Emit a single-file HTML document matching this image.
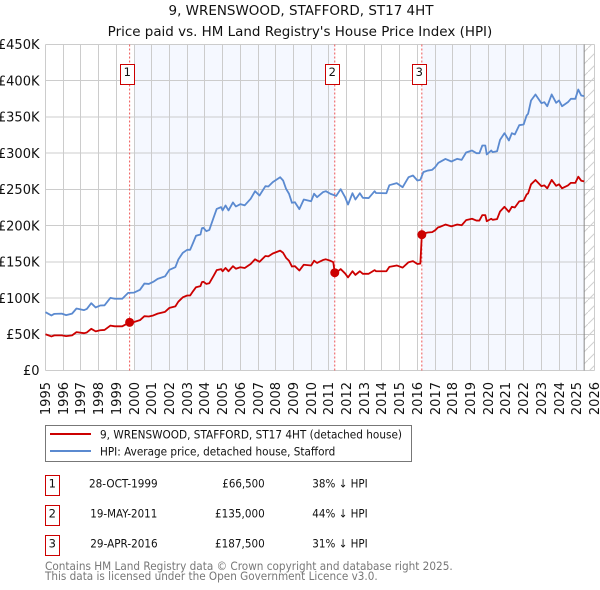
<!DOCTYPE html>
<html lang="en">
<head>
<meta charset="utf-8">
<title>9, WRENSWOOD, STAFFORD, ST17 4HT</title>
<style>
html,body{margin:0;padding:0;background:#fff;width:600px;height:590px;overflow:hidden}
svg{display:block;font-family:"DejaVu Sans","Liberation Sans",sans-serif}
text{fill:#111}
</style>
</head>
<body>
<svg id="chart" width="600" height="590" viewBox="0 0 600 590" xmlns="http://www.w3.org/2000/svg">
  <defs>
    <pattern id="hatch" patternUnits="userSpaceOnUse" width="12" height="12">
      <path d="M0 12L12 0" stroke="#d0d0d0" stroke-width="1" fill="none"/>
    </pattern>
  </defs>
  <text x="168.5" y="15" font-size="13.3" textLength="265" lengthAdjust="spacingAndGlyphs">9, WRENSWOOD, STAFFORD, ST17 4HT</text>
  <text x="107.7" y="36" font-size="13.3" textLength="384.6" lengthAdjust="spacingAndGlyphs">Price paid vs. HM Land Registry's House Price Index (HPI)</text>
  <g id="plot"></g>

  <g>
    <rect x="45.5" y="425.5" width="366" height="36" fill="#fff" stroke="#777" stroke-width="1"/>
    <line x1="50" x2="91" y1="434" y2="434" stroke="#cc0000" stroke-width="2"/>
    <text x="100" y="438.5" font-size="11.5" textLength="302" lengthAdjust="spacingAndGlyphs">9, WRENSWOOD, STAFFORD, ST17 4HT (detached house)</text>
    <line x1="50" x2="91" y1="451" y2="451" stroke="#5b8ad0" stroke-width="2"/>
    <text x="100" y="455.5" font-size="11.5" textLength="235.3" lengthAdjust="spacingAndGlyphs">HPI: Average price, detached house, Stafford</text>
  </g>

  <g font-size="11.5">
    <g>
      <rect x="45.5" y="475.5" width="14" height="20" fill="#fff" stroke="#cc0000"/>
      <text x="52.3" y="487.5" text-anchor="middle">1</text>
      <text x="89" y="487.5" textLength="68.7" lengthAdjust="spacingAndGlyphs">28-OCT-1999</text>
      <text x="222.3" y="487.5" textLength="42.4" lengthAdjust="spacingAndGlyphs">£66,500</text>
      <text x="312.3" y="487.5" textLength="55.4" lengthAdjust="spacingAndGlyphs">38% ↓ HPI</text>
    </g>
    <g>
      <rect x="45.5" y="505.5" width="14" height="20" fill="#fff" stroke="#cc0000"/>
      <text x="52.3" y="517.5" text-anchor="middle">2</text>
      <text x="90.3" y="517.5" textLength="67" lengthAdjust="spacingAndGlyphs">19-MAY-2011</text>
      <text x="215" y="517.5" textLength="49.7" lengthAdjust="spacingAndGlyphs">£135,000</text>
      <text x="312.3" y="517.5" textLength="55.4" lengthAdjust="spacingAndGlyphs">44% ↓ HPI</text>
    </g>
    <g>
      <rect x="45.5" y="535.5" width="14" height="20" fill="#fff" stroke="#cc0000"/>
      <text x="52.3" y="547.5" text-anchor="middle">3</text>
      <text x="90.3" y="547.5" textLength="67.4" lengthAdjust="spacingAndGlyphs">29-APR-2016</text>
      <text x="215" y="547.5" textLength="49.7" lengthAdjust="spacingAndGlyphs">£187,500</text>
      <text x="312.3" y="547.5" textLength="55.4" lengthAdjust="spacingAndGlyphs">31% ↓ HPI</text>
    </g>
  </g>

  <text x="45" y="570" font-size="11.5" textLength="407.7" lengthAdjust="spacingAndGlyphs" style="fill:#777">Contains HM Land Registry data © Crown copyright and database right 2025.</text>
  <text x="45" y="580" font-size="11.5" textLength="332.7" lengthAdjust="spacingAndGlyphs" style="fill:#777">This data is licensed under the Open Government Licence v3.0.</text>
</svg>
<script>
// Values in thousands of pounds; dates as months since January 1995.
const yearLabels = [1995,1996,1997,1998,1999,2000,2001,2002,2003,2004,2005,2006,2007,2008,2009,2010,2011,2012,2013,2014,2015,2016,2017,2018,2019,2020,2021,2022,2023,2024,2025,2026];
const priceTicks = [0,50,100,150,200,250,300,350,400,450];
const priceTickLabels = ['£0','£50K','£100K','£150K','£200K','£250K','£300K','£350K','£400K','£450K'];

const hpiMonths = [0,4,6,11,14,18,21,26,28,31,34,37,40,44,47,52,56,60,64,67,70,73,76,81,84,88,90,93,96,98,100,102,105,106,107,109,111,114,116,119,120,122,124,127,129,132,135,139,142,145,149,151,154,159,161,163,165,167,169,172,175,180,182,184,188,190,193,197,200,203,205,208,210,213,215,219,223,224,231,233,238,242,246,249,252,254,256,259,262,264,266,267,271,275,279,282,285,289,292,294,296,298,299,302,303,306,308,311,314,316,318,321,324,326,327,329,332,336,338,340,343,346,348,350,354,356,359,361,363,365];
const hpiValues = [80.5,76,78.2,78.5,76.4,78.5,85.6,83.3,85,92.9,87,89.7,90,100.3,99,99,107.2,107.5,111.4,120,119.5,122.4,126.5,130,139,142.6,153.2,162.4,166.6,166.6,176.2,186,187.7,196.4,197,192.3,194,211.6,223,225.5,221,227.8,221,232,226.4,229.6,228,237,247.5,241.6,254.4,254,260,266.8,262.3,250.8,244,231.5,232.3,222.7,236,233.7,244,239.3,246.2,247.5,244,241,250.3,239.3,229,244.7,236,244.7,238.4,238,247.5,245,244.7,255.8,258.6,253,266.8,269.2,262.3,263.2,273.8,276,277,280.6,286.2,287.6,292,288.5,292.2,290.8,300.9,303.7,300,300,310.6,310.6,298.2,303.7,301.5,302.7,318.4,327.6,317.5,327.6,325.8,338.6,339.6,352,354.3,372.7,381,369,370.4,364.8,381,369.5,372.7,364.8,370.4,375,375,387.9,379.6,378.7];

const paidMonths = [0,4,6,11,14,18,21,26,28,31,34,37,40,44,47,52,57,60,64,67,70,73,76,81,84,88,90,93,96,98,100,102,105,106,107,109,111,114,116,119,120,122,124,127,129,132,135,139,142,145,149,151,154,159,161,163,165,167,169,172,175,180,182,184,188,190,193,195,196,197,200,203,205,208,210,213,215,219,223,224,231,233,238,242,246,249,252,254,255,256,259,262,264,266,267,271,275,279,282,285,289,292,294,296,298,299,302,303,306,308,311,314,316,318,321,324,326,327,329,332,336,338,340,343,346,348,350,354,356,359,361,363,365];
const paidValues = [50,47,48.5,48.5,47.5,48.5,53,51.5,52.5,57.5,54,55.5,56,62,61,61,66.5,67,69.5,75,74.5,76,78.5,81,86.5,88.5,95,101,103.5,103.5,109.5,115,116.5,122,122.5,119.5,120.5,131,138.5,140,137,141.5,137,144,140.5,142.5,141.5,147,153.5,150,158,157.5,161.5,165.5,162.5,155.5,151.5,143.5,144,138,146,145,151.5,148.5,152.5,153.5,151.5,149.5,135,135,140,134,128.5,137,132,137,133.5,133.5,138.5,137,137,143,145,142,149.5,151,147,147.5,187.5,189,190.5,191,193.5,197.5,198,201.5,199,201.5,200.5,207.5,209.5,207,207,214.5,214.5,206,209.5,208,209,219.5,226,219,226,225,233.5,234.5,243,244.5,257,263,254.5,255.5,251.5,263,255,257,251.5,255.5,259,259,267.5,262,261];

const saleMonths = [57,196,255];
const salePrices = [66.5,135,187.5];
const saleNumbers = ['1','2','3'];
const shadedSpans = [[60,196],[255,365]];
const lastDataMonth = 365;

const NS = 'http://www.w3.org/2000/svg';
const plot = document.getElementById('plot');
const left = 45.5, right = 594.5, top_ = 44.5, bottom = 370.5;
function xOfMonth(m){ return left + m * (right - left) / 372; }
function yOfPrice(v){ return bottom - v * (bottom - top_) / 450; }
function xOfYear(y){ return Math.round(xOfMonth((y - 1995) * 12) - 0.5) + 0.5; }
function add(tag, attrs, text){
  const el = document.createElementNS(NS, tag);
  for (const k in attrs) el.setAttribute(k, attrs[k]);
  if (text !== undefined) el.textContent = text;
  plot.appendChild(el);
  return el;
}
function pathFrom(months, values){
  return months.map((m, i) => (i ? 'L' : 'M') + xOfMonth(m).toFixed(2) + ' ' + yOfPrice(values[i]).toFixed(2)).join('');
}

shadedSpans.forEach(s => {
  const el = add('rect', {x: xOfMonth(s[0]), y: top_, width: xOfMonth(s[1]) - xOfMonth(s[0]), height: bottom - top_, fill: '#f5f8ff'});
  
  
});

const hatchEl = add('rect', {x: xOfMonth(lastDataMonth), y: top_, width: right - xOfMonth(lastDataMonth), height: bottom - top_, fill: 'url(#hatch)'});



yearLabels.forEach(y => {
  const x = xOfYear(y);
  const g = add('line', {x1: x, x2: x, y1: top_, y2: bottom, stroke: '#cccccc', 'stroke-width': 1, 'shape-rendering': 'crispEdges'});
  
  
  const t = add('text', {transform: 'translate(' + (x + 4.7) + ',382) rotate(-90)', 'text-anchor': 'end', 'font-size': 13}, String(y));
  
  
});

priceTicks.forEach((v, i) => {
  const y = yOfPrice(v);
  const g = add('line', {x1: left, x2: right, y1: y, y2: y, stroke: '#cccccc', 'stroke-width': 1, 'shape-rendering': 'crispEdges'});
  
  
  const t = add('text', {x: 39.5, y: y + 4.7, 'text-anchor': 'end', 'font-size': 13}, priceTickLabels[i]);
  
  
});

const endLine = add('line', {x1: xOfMonth(lastDataMonth), x2: xOfMonth(lastDataMonth), y1: top_, y2: bottom, stroke: '#888', 'stroke-width': 1});



saleMonths.forEach(m => {
  const x = xOfMonth(m);
  const d = add('line', {x1: x, x2: x, y1: top_, y2: bottom, stroke: '#ee5555', 'stroke-width': 1, 'stroke-dasharray': '2 2'});
  
  
});

const hpiLine = add('path', {d: pathFrom(hpiMonths, hpiValues), fill: 'none', stroke: '#5b8ad0', 'stroke-width': 1.8, 'stroke-linejoin': 'round'});



const paidLine = add('path', {d: pathFrom(paidMonths, paidValues), fill: 'none', stroke: '#cc0000', 'stroke-width': 1.8, 'stroke-linejoin': 'round'});



saleMonths.forEach((m, i) => {
  const c = add('circle', {cx: xOfMonth(m), cy: yOfPrice(salePrices[i]), r: 4.5, fill: '#cc0000'});
  
  
  const cx = xOfMonth(m) - 3.1;
  const b = add('rect', {x: Math.round(cx - 7) + 0.5, y: 64.5, width: 14, height: 20, fill: '#fff', stroke: '#cc0000', 'stroke-width': 1});
  
  
  const t = add('text', {x: Math.round(cx - 7) + 7.3, y: 76, 'text-anchor': 'middle', 'font-size': 11.5}, saleNumbers[i]);
  
  
});
</script>
</body>
</html>
